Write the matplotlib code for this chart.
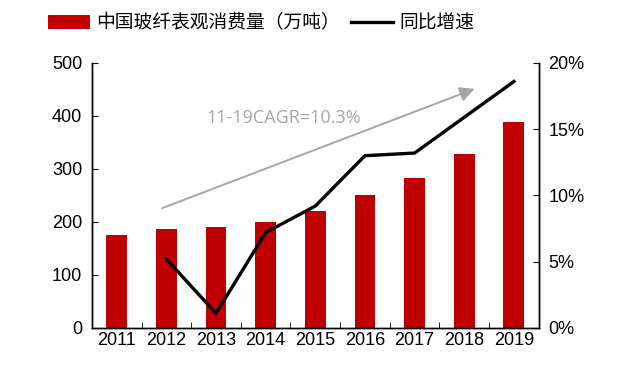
import numpy as np
import matplotlib
matplotlib.use("Agg")
import matplotlib.pyplot as plt
from matplotlib.ticker import FuncFormatter

plt.rcParams['font.family'] = ['Liberation Sans', 'Noto Sans CJK SC', 'DejaVu Sans']

# dati
anni = ['2011', '2012', '2013', '2014', '2015', '2016', '2017', '2018', '2019']
consumo = [175, 186, 190, 200, 221, 250, 282, 328, 389]
anni_crescita = ['2012', '2013', '2014', '2015', '2016', '2017', '2018', '2019']
crescita = [5.2, 1.1, 7.2, 9.2, 13.0, 13.2, 15.9, 18.6]

nome_barre = '中国玻纤表观消费量（万吨）'
nome_linea = '同比增速'
nota = '11-19CAGR=10.3%'

fig = plt.figure(figsize=(6.25, 3.66), dpi=100)
ax = fig.add_axes([0.147, 0.104, 0.715, 0.724])
x = np.arange(len(anni))
barre = ax.bar(x, consumo, width=0.42, color='#C00000', label=nome_barre, zorder=2)
ax.set_xlim(-0.5, len(anni) - 0.5)
ax.set_ylim(0, 500)
ax.set_yticks(range(0, 501, 100))
ax.set_xticks(x)
ax.set_xticklabels(anni)
ax.set_xticks(np.arange(-0.5, len(anni), 1), minor=True)
ax.tick_params(axis='x', which='major', length=0, labelsize=13, pad=3)
ax.tick_params(axis='x', which='minor', direction='in', length=4)
ax.tick_params(axis='y', direction='in', length=4, labelsize=13, pad=7)
ax.spines['top'].set_visible(False)
for s in ax.spines.values():
    s.set_linewidth(1.0)

ax2 = ax.twinx()
xc = [anni.index(a) for a in anni_crescita]
linea, = ax2.plot(xc, crescita, color='black', lw=2.4, label=nome_linea, zorder=3)
ax2.set_ylim(0, 20)
ax2.set_yticks(range(0, 21, 5))
ax2.yaxis.set_major_formatter(FuncFormatter(lambda v, p: f'{v:.0f}%'))
ax2.tick_params(axis='y', direction='in', length=4, labelsize=13, pad=7)
ax2.spines['top'].set_visible(False)
for s in ax2.spines.values():
    s.set_linewidth(1.0)

# freccia CAGR
ax.annotate('', xy=(7.26, 453), xytext=(0.86, 224),
            arrowprops=dict(arrowstyle='-|>', color='#A6A6A6', lw=1.4,
                            mutation_scale=22), zorder=1)
ax.text(3.36, 397, nota, color='#A6A6A6', fontsize=13, ha='center', va='center',
        family=['Open Sans', 'DejaVu Sans'])

fig.legend(handles=[barre, linea], loc='center', bbox_to_anchor=(0.418, 0.937),
           ncol=2, frameon=False, handlelength=2.2,
           handletextpad=0.35, columnspacing=0.6,
           prop={'family': ['Noto Sans CJK SC', 'DejaVu Sans'], 'size': 13.5})

fig.savefig('out.png', dpi=100)
